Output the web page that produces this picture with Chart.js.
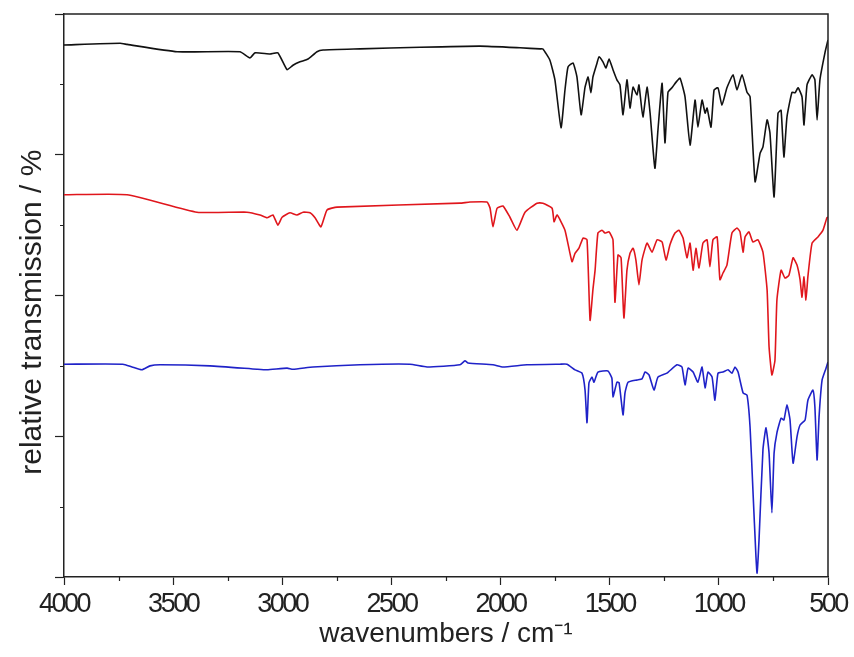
<!DOCTYPE html>
<html>
<head>
<meta charset="utf-8">
<title>IR spectra</title>
<script src="https://cdn.jsdelivr.net/npm/chart.js@4.4.0/dist/chart.umd.min.js"></script>
<style>
  html, body { margin: 0; padding: 0; background: #fff; }
  #chart { display: block; }
</style>
</head>
<body>
<canvas id="chart" width="854" height="657"></canvas>
<script>
// ========================
// DATA
// wavenumbers in cm-1, transmission in % of the plot height (stacked, offset)
// ========================
const blackWn = [4000,3743,3711,3482,3194,3148,3125,3056,3020,2978,2951,2919,2882,2841,2813,2644,2369,2094,1911,1819,
  1806,1774,1751,1723,1705,1691,1668,1650,1631,1613,1599,1586,1577,1558,1549,1531,1517,1503,1485,1467,
  1453,1439,1421,1407,1393,1375,1366,1348,1329,1315,1293,1279,1260,1247,1233,1215,1196,1178,1155,1132,
  1109,1096,1077,1063,1054,1036,1022,1004,986,963,935,917,894,871,857,834,811,798,779,766,
  747,729,715,702,688,665,651,637,619,610,596,573,560,550,537,514,500];
const blackT = [94.5,94.8,94.6,93.3,93.3,92.2,93.1,92.9,93.1,90.1,90.9,91.5,92.0,93.3,93.6,93.8,94.1,94.3,94.0,93.8,
  93.8,91.8,88.3,79.8,86.5,90.6,91.3,88.8,82.1,87.0,88.8,86.0,88.8,91.3,92.4,91.5,90.4,92.0,90.1,88.3,
  87.4,82.1,88.3,83.3,87.0,85.6,87.4,81.7,87.0,82.4,72.6,79.4,87.7,77.1,86.1,86.9,87.9,88.6,85.3,76.7,
  84.7,79.9,84.7,82.4,83.3,79.9,86.5,86.9,83.8,86.9,89.2,86.5,89.2,86.1,85.3,70.2,75.3,76.4,81.2,78.9,
  67.5,82.4,82.9,74.6,81.7,86.1,86.0,86.9,85.3,80.3,87.4,89.2,88.3,81.2,88.3,93.1,95.4];

const redWn = [4000,3711,3391,3162,3102,3070,3043,3020,3001,2965,2933,2905,2873,2850,2823,2795,2749,2186,2140,2062,
  2048,2035,2016,1989,1957,1925,1888,1833,1806,1764,1755,1741,1705,1673,1659,1641,1622,1604,1590,1577,
  1567,1554,1535,1522,1503,1485,1476,1462,1448,1435,1421,1407,1393,1380,1366,1352,1329,1306,1283,1260,
  1242,1224,1201,1183,1164,1146,1132,1118,1105,1091,1073,1054,1041,1027,1008,995,981,963,940,917,
  903,889,880,862,844,821,798,779,770,757,743,734,715,697,679,660,642,628,619,610,
  601,592,573,546,523,505,500];
const redT = [67.9,67.9,64.8,64.8,64.3,63.8,64.3,62.5,63.9,64.7,64.3,64.8,64.7,63.8,62.2,65.2,65.7,66.4,66.6,66.6,
  65.5,62.2,65.5,65.9,63.9,61.6,64.8,66.4,66.4,65.5,63.1,64.3,61.6,56.0,57.5,58.4,60.2,59.9,45.6,51.0,
  54.5,61.1,61.6,61.1,61.3,59.9,48.8,57.2,56.7,46.0,54.5,57.5,58.4,56.3,51.9,56.3,59.3,57.7,59.9,59.5,
  56.3,59.0,61.1,61.6,60.2,56.7,59.3,54.5,58.4,54.9,59.3,59.9,55.1,59.9,60.4,52.8,54.0,55.4,61.1,62.0,
  61.3,57.7,60.4,61.3,59.5,59.9,57.7,51.0,40.9,35.9,38.5,49.2,54.5,53.1,53.6,56.7,55.4,52.8,49.7,53.3,
  49.2,53.4,59.3,60.4,61.6,63.8,63.9];

const blueWn = [4000,3730,3688,3643,3606,3560,3331,3116,3070,2978,2951,2859,2644,2415,2337,2186,2163,2149,2035,1989,
  1879,1728,1696,1659,1627,1613,1604,1595,1581,1572,1554,1508,1490,1485,1467,1457,1439,1430,1416,1375,
  1352,1338,1320,1297,1279,1238,1192,1169,1155,1141,1118,1096,1077,1063,1050,1031,1018,1004,981,958,
  940,926,912,889,871,857,844,830,825,816,798,784,770,757,747,734,715,702,688,674,
  660,642,628,605,592,569,560,550,541,527,509,500];
const blueT = [37.8,37.8,37.3,36.8,37.5,37.7,37.5,36.9,36.8,37.1,36.9,37.3,37.7,37.8,37.3,37.7,38.4,38.0,37.7,37.3,
  37.7,37.8,37.8,36.8,36.2,33.2,27.4,34.5,35.5,34.6,36.4,36.6,35.3,32.0,34.6,34.5,28.8,32.7,34.6,35.0,
  35.2,36.4,35.9,33.2,35.5,36.2,37.7,37.3,34.1,37.1,36.4,34.6,37.3,33.6,36.4,35.5,31.4,36.2,36.4,36.8,
  36.2,37.3,36.4,32.7,32.3,26.6,15.5,3.6,0.7,6.6,22.6,26.5,22.0,11.4,22.0,25.6,28.2,27.9,30.6,27.9,
  20.2,24.9,27.0,27.9,31.4,33.2,30.2,20.8,28.4,35.0,37.1,38.2];

// axis ranges / ticks
const X_MIN = 500, X_MAX = 4000, X_MAJOR = 500, X_MINOR = 250;
const Y_MIN = 0, Y_MAX = 100, Y_MAJOR = 25, Y_MINOR = 12.5;

const X_TITLE = "wavenumbers / cm\u207B\u00B9";
// trailing nbsp's nudge the rotated title a bit down, like the original
const Y_TITLE = "relative transmission / %\u00A0\u00A0\u00A0\u00A0";

// ========================
// Helpers
// ========================
function toPoints(wn, t) {
  return wn.map((w, i) => ({ x: w, y: t[i] }));
}

function isMajor(v, step) {
  return Math.abs(v / step - Math.round(v / step)) < 1e-6;
}

// the original tick numbers are condensed; tighten them a little
function condenseLabels(scale) {
  if (scale._condensed) return;
  const orig = scale.drawLabels.bind(scale);
  scale.drawLabels = (area) => {
    scale.ctx.save();
    scale.ctx.letterSpacing = "-2.5px";
    orig(area);
    scale.ctx.restore();
  };
  scale._condensed = true;
}

// top/right frame + short minor ticks (positions from the chart's own scales)
const frameAndMinor = {
  id: "frameAndMinor",
  afterDraw(chart) {
    const { ctx, chartArea: a, scales: { x, y } } = chart;
    ctx.save();
    ctx.strokeStyle = "#222";
    ctx.lineWidth = 1.5;
    ctx.beginPath();
    ctx.moveTo(a.left, a.top);
    ctx.lineTo(a.right, a.top);
    ctx.lineTo(a.right, a.bottom);
    ctx.stroke();

    ctx.lineWidth = 1.2;
    ctx.beginPath();
    for (const t of x.ticks) {
      if (isMajor(t.value, X_MAJOR)) continue;
      const px = Math.round(x.getPixelForValue(t.value)) + 0.5;
      ctx.moveTo(px, a.bottom);
      ctx.lineTo(px, a.bottom + 4);
    }
    for (const t of y.ticks) {
      if (isMajor(t.value, Y_MAJOR)) continue;
      const py = Math.round(y.getPixelForValue(t.value)) + 0.5;
      ctx.moveTo(a.left, py);
      ctx.lineTo(a.left - 4, py);
    }
    ctx.stroke();
    ctx.restore();
  }
};

// ========================
// Chart.js
// ========================
const ctx = document.getElementById("chart").getContext("2d");

new Chart(ctx, {
  type: "line",
  data: {
    datasets: [
      { data: toPoints(blackWn, blackT), borderColor: "#111111" },
      { data: toPoints(redWn, redT), borderColor: "#e0161c" },
      { data: toPoints(blueWn, blueT), borderColor: "#1f22c8" }
    ]
  },
  options: {
    responsive: false,
    devicePixelRatio: 1,
    animation: false,
    events: [],
    layout: { padding: { top: 14, right: 26, left: 0, bottom: 0 } },
    elements: {
      point: { radius: 0 },
      line: { borderWidth: 1.6, tension: 0.15, fill: false }
    },
    plugins: {
      legend: { display: false },
      tooltip: { enabled: false }
    },
    scales: {
      x: {
        type: "linear",
        reverse: true,
        min: X_MIN,
        max: X_MAX,
        afterFit: (s) => { s.height = 80; },
        afterUpdate: condenseLabels,
        border: { display: true, color: "#222", width: 1.5 },
        grid: {
          drawOnChartArea: false,
          drawTicks: true,
          tickLength: 8,
          tickWidth: 1.2,
          tickColor: (c) => (isMajor(c.tick.value, X_MAJOR) ? "#222" : "rgba(0,0,0,0)")
        },
        ticks: {
          stepSize: X_MINOR,
          autoSkip: false,
          maxRotation: 0,
          padding: 3,
          color: "#222",
          font: { family: "'Liberation Sans', Arial, sans-serif", size: 27 },
          callback: (v) => (isMajor(v, X_MAJOR) ? String(v) : "")
        },
        title: {
          display: true,
          text: X_TITLE,
          color: "#222",
          padding: { top: 0, bottom: 6 },
          font: { family: "'Liberation Sans', Arial, sans-serif", size: 28 }
        }
      },
      y: {
        type: "linear",
        min: Y_MIN,
        max: Y_MAX,
        afterFit: (s) => { s.width = 64; },
        border: { display: true, color: "#222", width: 1.5 },
        grid: {
          drawOnChartArea: false,
          drawTicks: true,
          tickLength: 9,
          tickWidth: 1.2,
          tickColor: (c) => (isMajor(c.tick.value, Y_MAJOR) ? "#222" : "rgba(0,0,0,0)")
        },
        ticks: {
          stepSize: Y_MINOR,
          autoSkip: false,
          callback: () => ""
        },
        title: {
          display: true,
          text: Y_TITLE,
          color: "#222",
          padding: { top: 15, bottom: 0 },
          font: { family: "'Liberation Sans', Arial, sans-serif", size: 30 }
        }
      }
    }
  },
  plugins: [frameAndMinor]
});
</script>
</body>
</html>
